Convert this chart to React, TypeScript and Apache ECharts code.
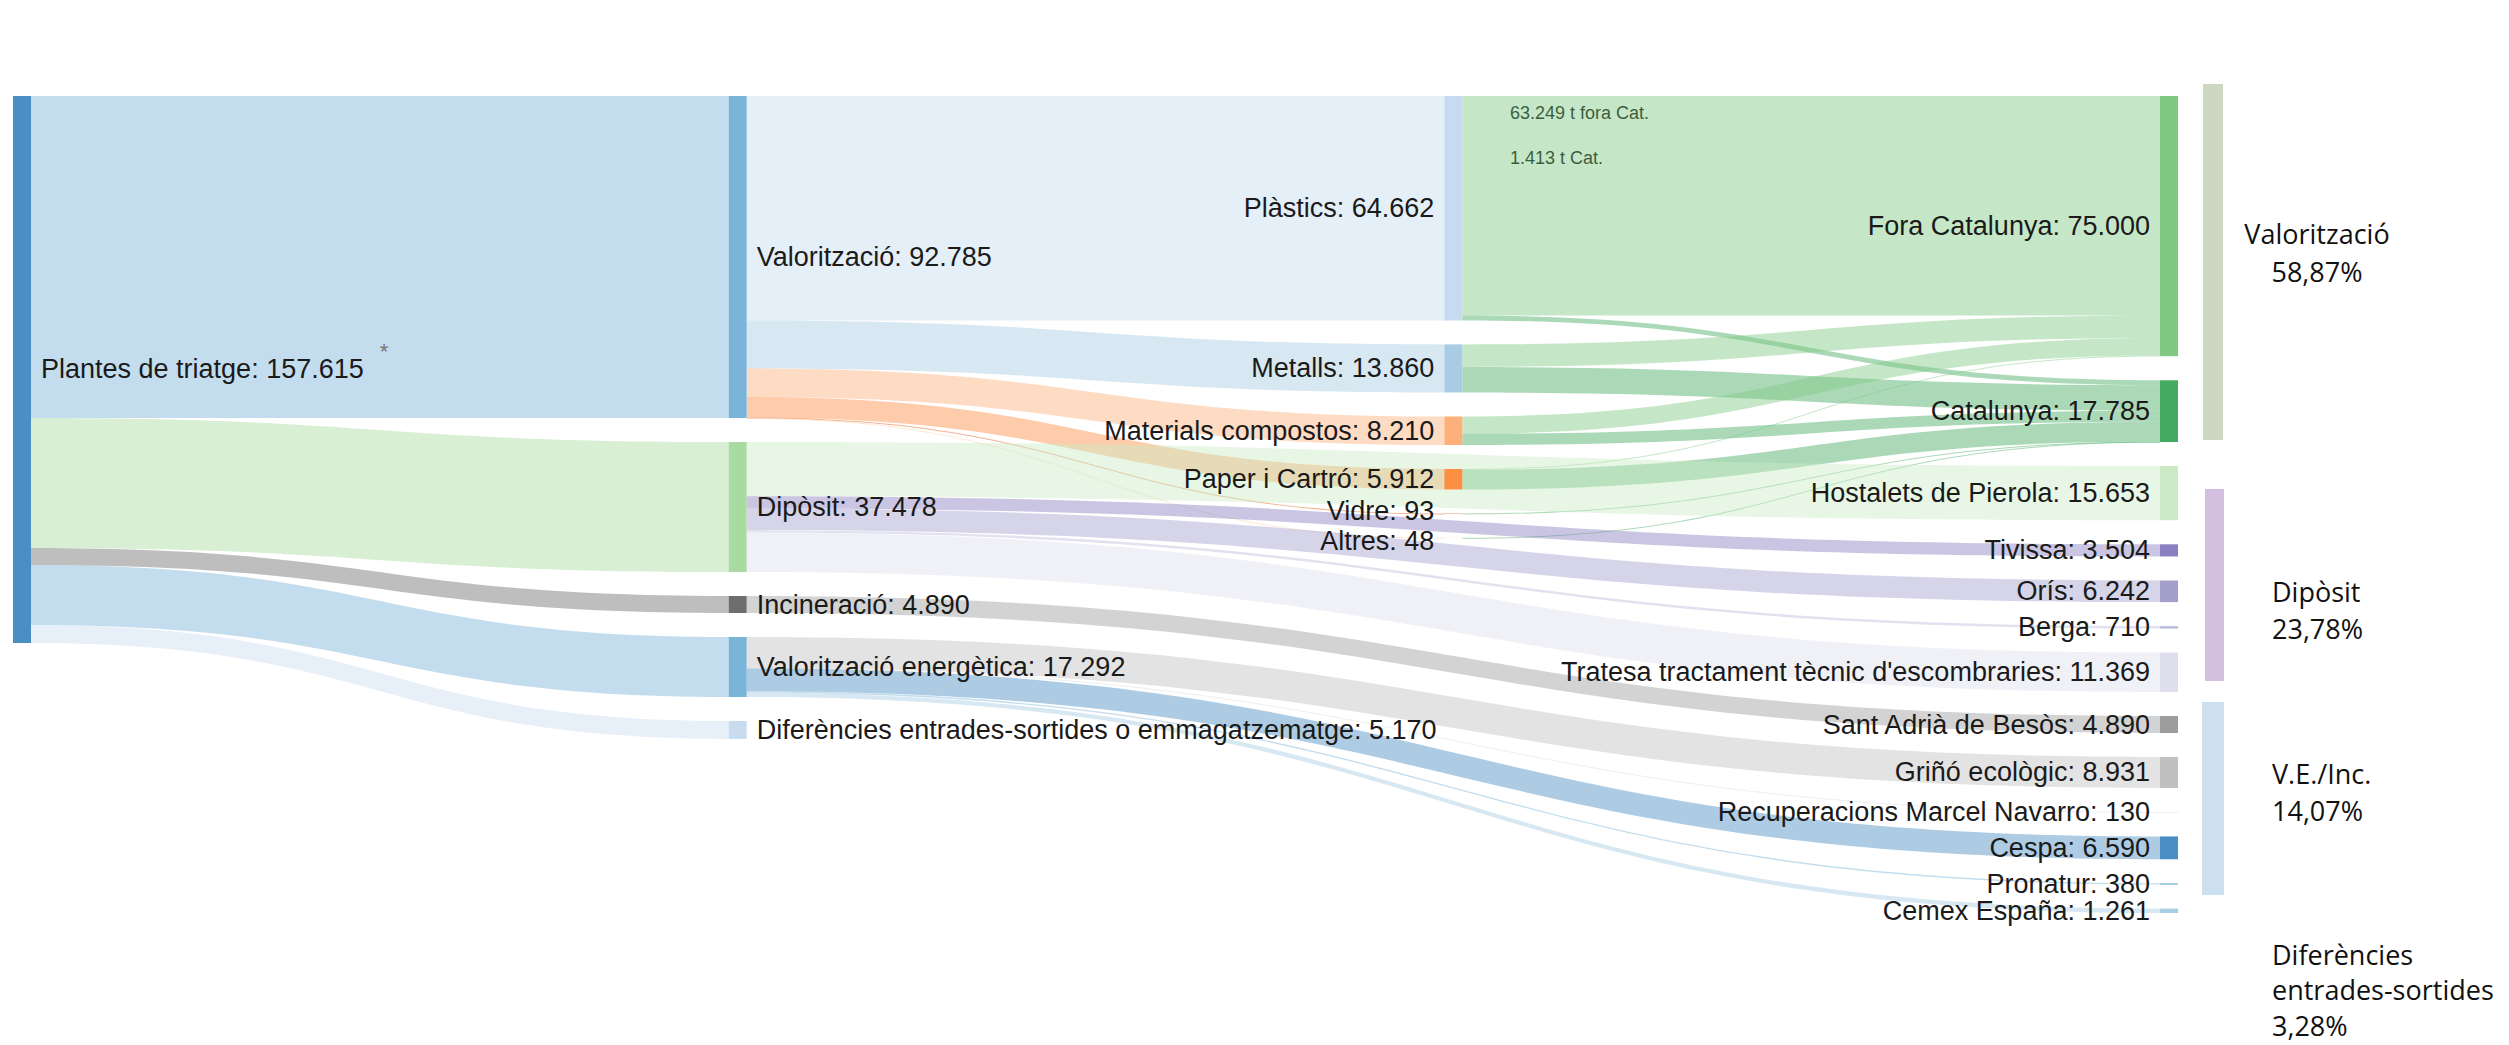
import React, { useEffect, useRef } from 'react';
import * as echarts from 'echarts';

// ---------- DATA ----------
const sourceNode = 'Plantes de triatge';
const sourceValue = 157615;

const treatments = [
  'Valorització',
  'Dipòsit',
  'Incineració',
  'Valorització energètica',
  'Diferències entrades-sortides o emmagatzematge',
];
const treatmentValues = [92785, 37478, 4890, 17292, 5170];

const materials = ['Plàstics', 'Metalls', 'Materials compostos', 'Paper i Cartró', 'Vidre', 'Altres'];
const materialValues = [64662, 13860, 8210, 5912, 93, 48];

const regions = ['Fora Catalunya', 'Catalunya'];
const regionValues = [75000, 17785];
const materialToFora = [63249, 6500, 5000, 251, 0, 0];
const materialToCatalunya = [1413, 7360, 3210, 5661, 93, 48];

const landfills = ['Hostalets de Pierola', 'Tivissa', 'Orís', 'Berga', "Tratesa tractament tècnic d'escombraries"];
const landfillValues = [15653, 3504, 6242, 710, 11369];

const incinerators = ['Sant Adrià de Besòs'];
const incineratorValues = [4890];

const energyPlants = ['Griñó ecològic', 'Recuperacions Marcel Navarro', 'Cespa', 'Pronatur', 'Cemex España'];
const energyValues = [8931, 130, 6590, 380, 1261];

const plasticNotes = ['63.249 t fora Cat.', '1.413 t Cat.'];

const shareLabels = ['Valorització', 'Dipòsit', 'V.E./Inc.', 'Diferències\nentrades-sortides'];
const shareValues = ['58,87%', '23,78%', '14,07%', '3,28%'];

// ---------- STYLES ----------
const nodeColors: Record<string, string> = {
  'Plantes de triatge': '#4a8fc4',
  'Valorització': '#7ab4d9',
  'Dipòsit': '#a9dba0',
  'Incineració': '#6e6e6e',
  'Valorització energètica': '#7ab4d9',
  'Diferències entrades-sortides o emmagatzematge': '#c9dcef',
  'Plàstics': '#c6dbef',
  'Metalls': '#a7cce3',
  'Materials compostos': '#fdb07a',
  'Paper i Cartró': '#fd8f45',
  'Vidre': '#e6550d',
  'Altres': '#fdd0a2',
  'Fora Catalunya': '#7fc983',
  'Catalunya': '#44ab62',
  'Hostalets de Pierola': '#cdeac6',
  'Tivissa': '#8a7fbf',
  'Orís': '#a59fcb',
  'Berga': '#bcbddc',
  "Tratesa tractament tècnic d'escombraries": '#dedeed',
  'Sant Adrià de Besòs': '#9d9d9d',
  'Griñó ecològic': '#c0c0c0',
  'Recuperacions Marcel Navarro': '#d9d9d9',
  'Cespa': '#4a8fc4',
  'Pronatur': '#7ab4d9',
  'Cemex España': '#a8cde3',
};
const labelOffsets: Record<string, number[]> = { 'Vidre': [0, -3], 'Altres': [0, 3] };
const shareBarColors = ['#cdd8c3', '#d3bfe0', '#cde0f0'];

const fmt = (v: number) => String(Math.round(v)).replace(/\B(?=(\d{3})+(?!\d))/g, '.');

export default function App() {
  const ref = useRef<HTMLDivElement>(null);

  useEffect(() => {
    if (!ref.current) return;
    const chart = echarts.init(ref.current, undefined, { renderer: 'svg' });

    type N = { name: string; value: number; depth: number };
    const nodeList: N[] = [];
    nodeList.push({ name: sourceNode, value: sourceValue, depth: 0 });
    treatments.forEach((n, i) => nodeList.push({ name: n, value: treatmentValues[i], depth: 1 }));
    materials.forEach((n, i) => nodeList.push({ name: n, value: materialValues[i], depth: 2 }));
    regions.forEach((n, i) => nodeList.push({ name: n, value: regionValues[i], depth: 3 }));
    landfills.forEach((n, i) => nodeList.push({ name: n, value: landfillValues[i], depth: 3 }));
    incinerators.forEach((n, i) => nodeList.push({ name: n, value: incineratorValues[i], depth: 3 }));
    energyPlants.forEach((n, i) => nodeList.push({ name: n, value: energyValues[i], depth: 3 }));

    const nodes = nodeList.map((n) => {
      const label: any = { position: n.depth >= 2 ? 'left' : 'right' };
      if (labelOffsets[n.name]) {
        label.offset = labelOffsets[n.name];
        label.lineHeight = 24;
      }
      return {
        name: n.name,
        value: n.value,
        depth: n.depth,
        itemStyle: { color: nodeColors[n.name], borderWidth: 0 },
        label,
      };
    });

    const links: { source: string; target: string; value: number }[] = [];
    treatments.forEach((t, i) => links.push({ source: sourceNode, target: t, value: treatmentValues[i] }));
    materials.forEach((m, i) => links.push({ source: treatments[0], target: m, value: materialValues[i] }));
    materials.forEach((m, i) => {
      if (materialToFora[i] > 0) links.push({ source: m, target: regions[0], value: materialToFora[i] });
      if (materialToCatalunya[i] > 0) links.push({ source: m, target: regions[1], value: materialToCatalunya[i] });
    });
    landfills.forEach((l, i) => links.push({ source: treatments[1], target: l, value: landfillValues[i] }));
    incinerators.forEach((l, i) => links.push({ source: treatments[2], target: l, value: incineratorValues[i] }));
    energyPlants.forEach((l, i) => links.push({ source: treatments[3], target: l, value: energyValues[i] }));

    const graphic: any[] = [];
    // bracket bars on the right
    const barBoxes = [
      [2203, 84, 20, 356],
      [2205, 489, 19, 192],
      [2202, 702, 22, 193],
    ];
    barBoxes.forEach((b, i) =>
      graphic.push({
        type: 'rect',
        shape: { x: b[0], y: b[1], width: b[2], height: b[3] },
        style: { fill: shareBarColors[i] },
        silent: true,
      })
    );
    const shareFont = '27px "Open Sans", sans-serif';
    graphic.push({
      type: 'text',
      x: 2317,
      y: 252,
      style: { text: shareLabels[0] + '\n' + shareValues[0], font: shareFont, fill: '#111', textAlign: 'center', textVerticalAlign: 'middle', lineHeight: 38 },
    });
    const leftShare = [
      [591, 1, 37.5],
      [773, 2, 37.5],
      [954, 3, 35.5],
    ];
    leftShare.forEach(([y, i, lh]) =>
      graphic.push({
        type: 'text',
        x: 2272,
        y: y - lh / 2,
        style: { text: shareLabels[i] + '\n' + shareValues[i], font: shareFont, fill: '#111', textAlign: 'left', textVerticalAlign: 'top', lineHeight: lh },
      })
    );
    plasticNotes.forEach((t, i) =>
      graphic.push({
        type: 'text',
        x: 1510,
        y: 113 + i * 45,
        style: { text: t, font: '18px "Liberation Sans", Arial, sans-serif', fill: '#000', textAlign: 'left', textVerticalAlign: 'middle' },
      })
    );

    chart.setOption({
      animation: false,
      backgroundColor: '#ffffff',
      graphic,
      series: [
        {
          type: 'sankey',
          left: 13,
          right: 331,
          top: 96,
          bottom: 132,
          nodeWidth: 18,
          nodeGap: 24,
          nodeAlign: 'justify',
          layoutIterations: 0,
          draggable: false,
          emphasis: { disabled: true },
          data: nodes,
          links,
          lineStyle: { color: 'target', opacity: 0.45, curveness: 0.5 },
          label: {
            show: true,
            distance: 10,
            color: '#1a1a1a',
            fontSize: 27,
            fontFamily: '"Liberation Sans", Arial, sans-serif',
            formatter: (p: any) =>
              p.name === sourceNode ? `${p.name}: ${fmt(p.value)}{s|*}` : `${p.name}: ${fmt(p.value)}`,
            rich: {
              s: { fontSize: 22, color: '#777', verticalAlign: 'top', padding: [0, 0, 36, 16], fontFamily: '"Liberation Sans", Arial, sans-serif' },
            },
          },
        },
      ],
    });

    return () => chart.dispose();
  }, []);

  return <div ref={ref} style={{ position: 'fixed', left: 0, top: 0, width: 2509, height: 1045, background: '#fff' }} />;
}
